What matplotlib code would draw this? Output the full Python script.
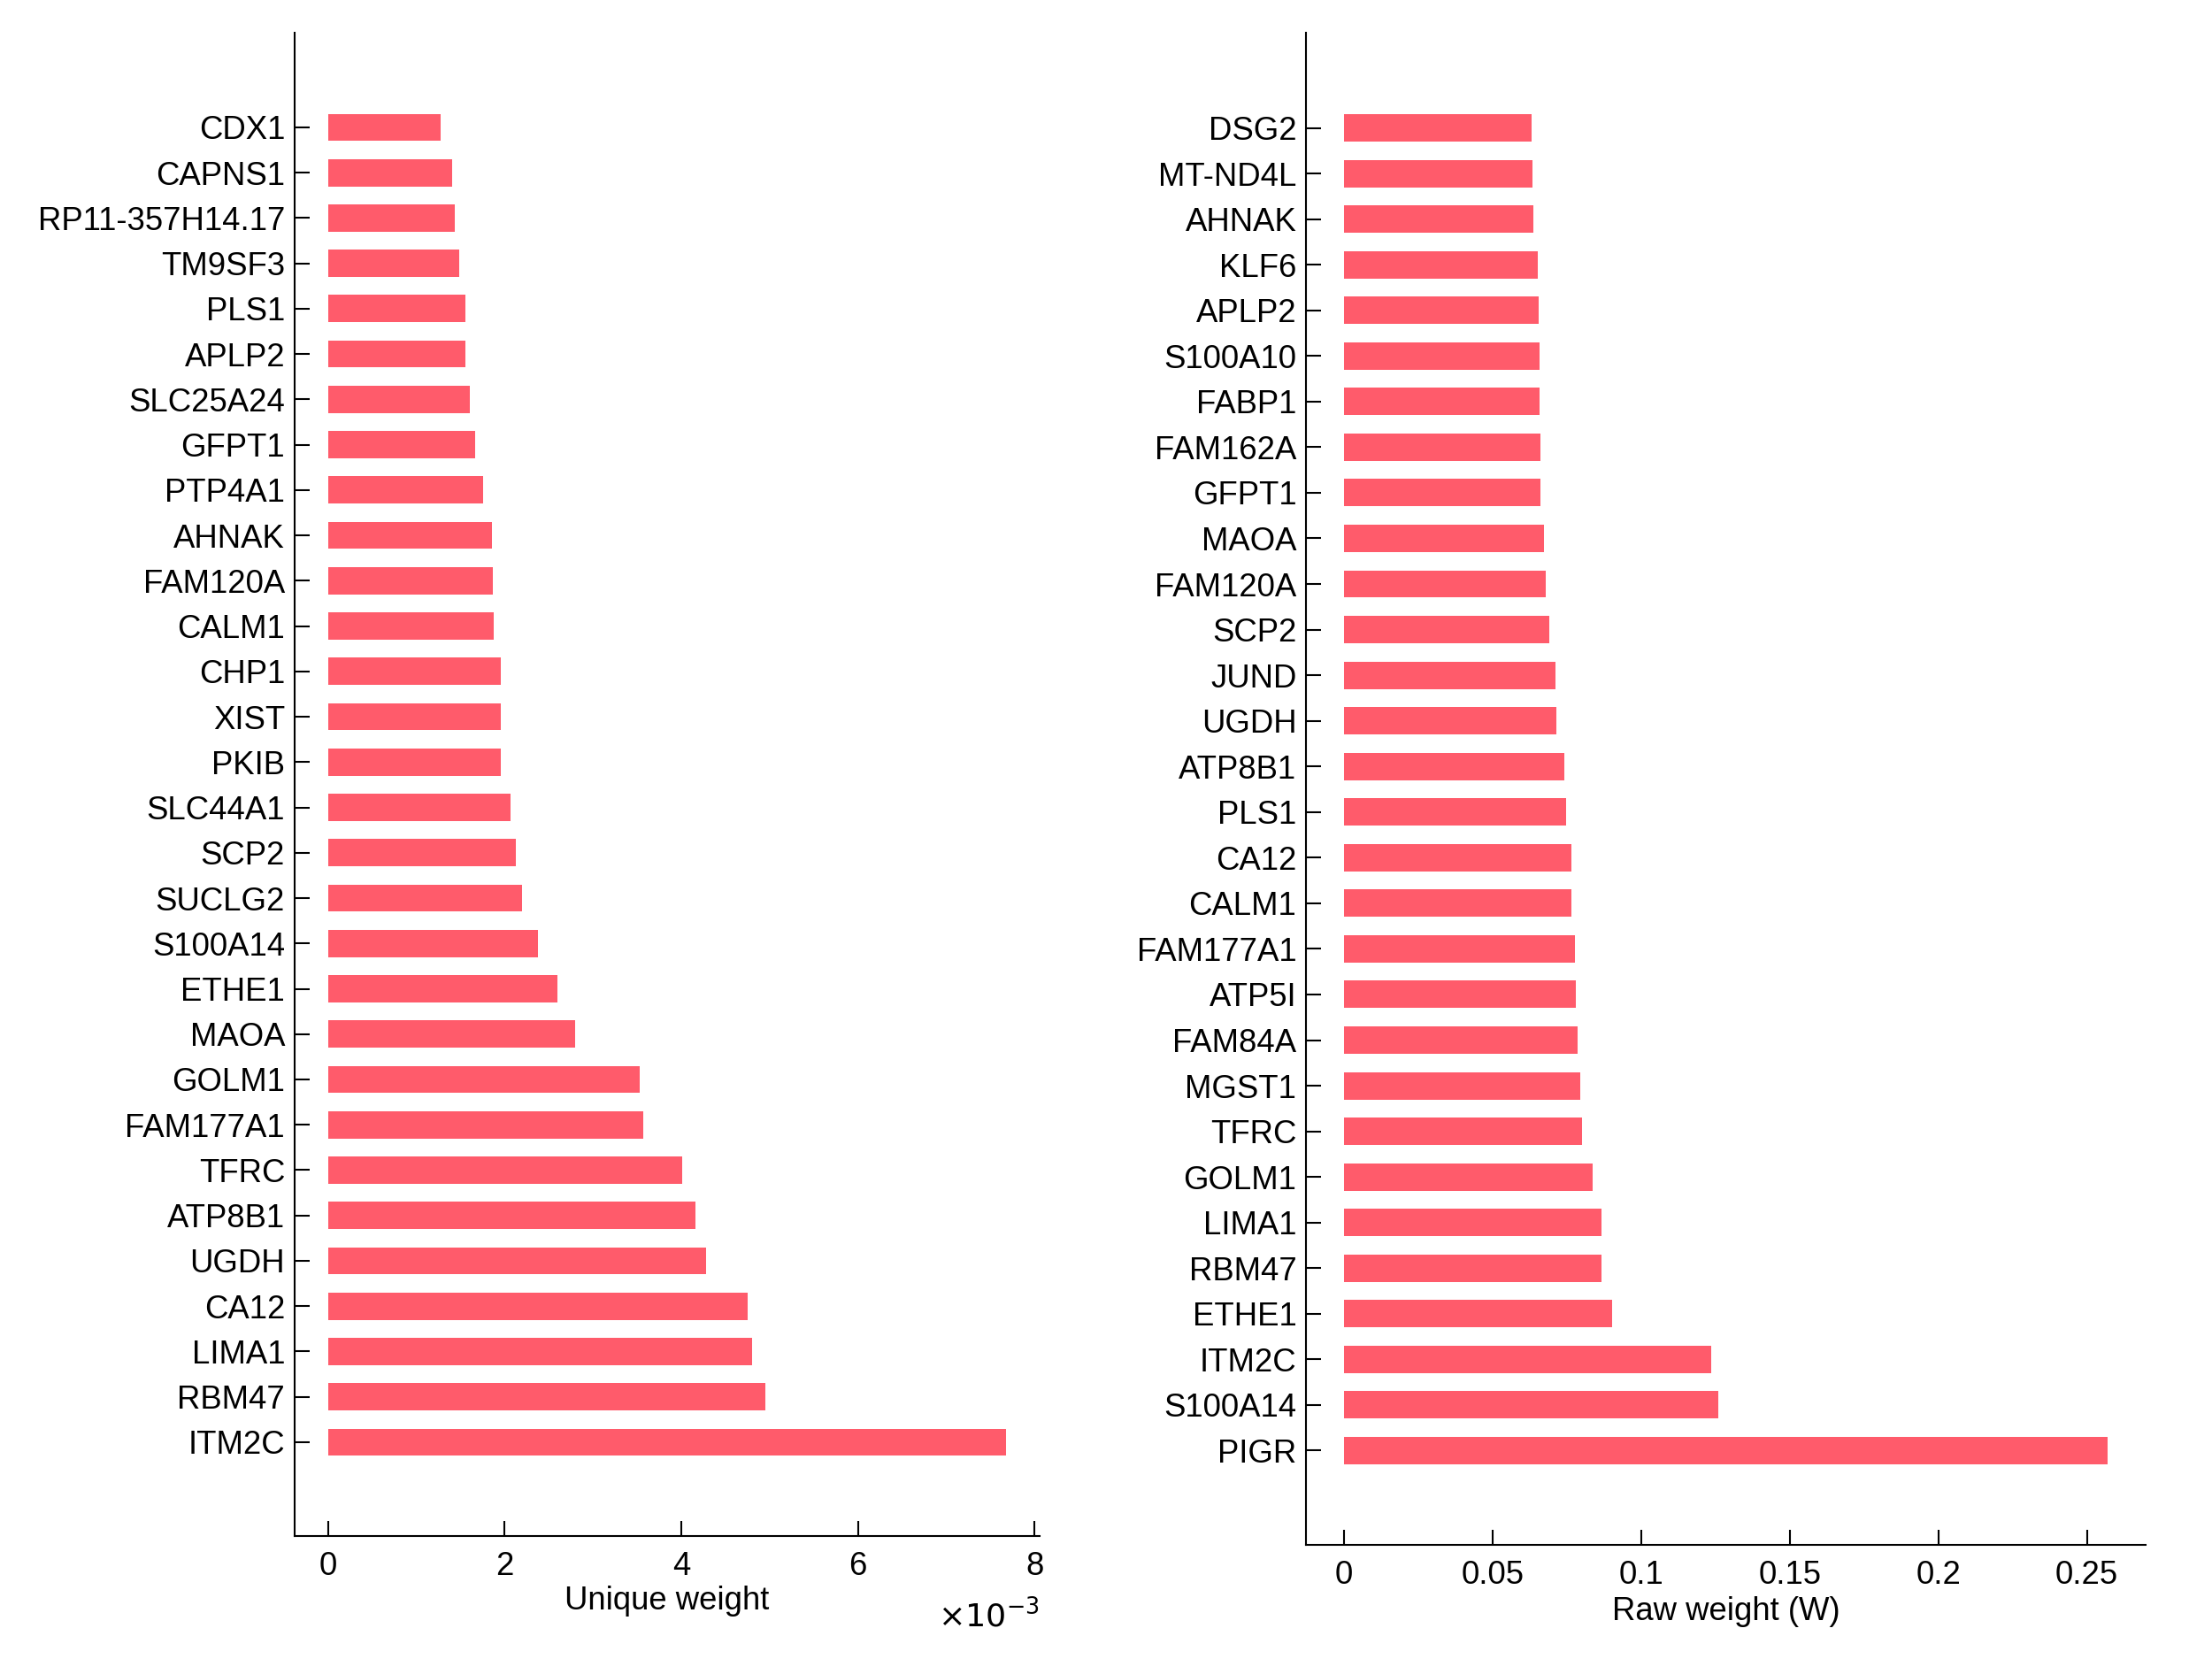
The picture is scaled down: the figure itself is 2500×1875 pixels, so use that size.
import numpy as np
import matplotlib
matplotlib.use('Agg')
import matplotlib.pyplot as plt
from matplotlib.ticker import FuncFormatter

plt.rcParams['font.family'] = ['Liberation Sans', 'DejaVu Sans']
plt.rcParams['font.size'] = 10.5

# left panel: unique weight
genes_unique = ['CDX1', 'CAPNS1', 'RP11-357H14.17', 'TM9SF3', 'PLS1', 'APLP2',
                'SLC25A24', 'GFPT1', 'PTP4A1', 'AHNAK', 'FAM120A', 'CALM1',
                'CHP1', 'XIST', 'PKIB', 'SLC44A1', 'SCP2', 'SUCLG2', 'S100A14',
                'ETHE1', 'MAOA', 'GOLM1', 'FAM177A1', 'TFRC', 'ATP8B1', 'UGDH',
                'CA12', 'LIMA1', 'RBM47', 'ITM2C']
unique_weight = np.array([1.279, 1.407, 1.431, 1.487, 1.551, 1.553,
                          1.607, 1.663, 1.751, 1.855, 1.863, 1.879,
                          1.956, 1.958, 1.959, 2.062, 2.126, 2.198, 2.374,
                          2.598, 2.798, 3.533, 3.573, 4.013, 4.165, 4.277,
                          4.748, 4.804, 4.948, 7.674]) * 1e-3

# right panel: raw weight
genes_raw = ['DSG2', 'MT-ND4L', 'AHNAK', 'KLF6', 'APLP2', 'S100A10', 'FABP1',
             'FAM162A', 'GFPT1', 'MAOA', 'FAM120A', 'SCP2', 'JUND', 'UGDH',
             'ATP8B1', 'PLS1', 'CA12', 'CALM1', 'FAM177A1', 'ATP5I', 'FAM84A',
             'MGST1', 'TFRC', 'GOLM1', 'LIMA1', 'RBM47', 'ETHE1', 'ITM2C',
             'S100A14', 'PIGR']
raw_weight = [0.0631, 0.0633, 0.0638, 0.0652, 0.0655, 0.0657, 0.0659,
              0.0660, 0.0662, 0.0674, 0.0678, 0.0690, 0.0712, 0.0716,
              0.0742, 0.0747, 0.0764, 0.0766, 0.0778, 0.0780, 0.0787,
              0.0795, 0.0802, 0.0837, 0.0866, 0.0867, 0.0901, 0.1236,
              0.1259, 0.2569]

bar_color = '#FF5B6B'


def draw_panel(ax, names, vals, ticks):
    y = np.arange(len(names))
    ax.barh(y, vals, height=0.6, color=bar_color, edgecolor='none')
    ax.set_yticks(y)
    ax.set_yticklabels(names)
    ax.set_ylim(len(names) - 1 + 2.06, -2.08)
    vmax = max(vals)
    ax.set_xlim(-0.05 * vmax, 1.05 * vmax)
    ax.set_xticks(ticks)
    for s in ['top', 'right']:
        ax.spines[s].set_visible(False)
    for s in ['left', 'bottom']:
        ax.spines[s].set_linewidth(0.6)
    ax.tick_params(direction='in', length=4.8, width=0.6, labelsize=10.5)
    ax.tick_params(axis='y', pad=3)
    ax.tick_params(axis='x', pad=5)


fig = plt.figure(figsize=(10, 7.5), dpi=250)

ax1 = fig.add_axes([0.1330, 0.0744, 0.470 - 0.1330, 0.9057])
draw_panel(ax1, genes_unique, unique_weight, [0, 0.002, 0.004, 0.006, 0.008])
ax1.xaxis.set_major_formatter(FuncFormatter(lambda v, p: '%g' % round(v * 1e3, 6)))
ax1.set_xlabel('Unique weight', fontsize=10.5)
ax1.xaxis.set_label_coords(0.5, -0.033)
ax1.text(1.0, -0.053, r'$\times10^{-3}$', transform=ax1.transAxes,
         ha='right', va='center', fontsize=10.5)

ax2 = fig.add_axes([0.5903, 0.0690, 0.9700 - 0.5903, 0.9111])
draw_panel(ax2, genes_raw, raw_weight, [0, 0.05, 0.1, 0.15, 0.2, 0.25])
ax2.xaxis.set_major_formatter(FuncFormatter(lambda v, p: '%g' % round(v, 6)))
ax2.set_xlabel('Raw weight (W)', fontsize=10.5)
ax2.xaxis.set_label_coords(0.5, -0.034)

fig.savefig('out.png', dpi=250)
